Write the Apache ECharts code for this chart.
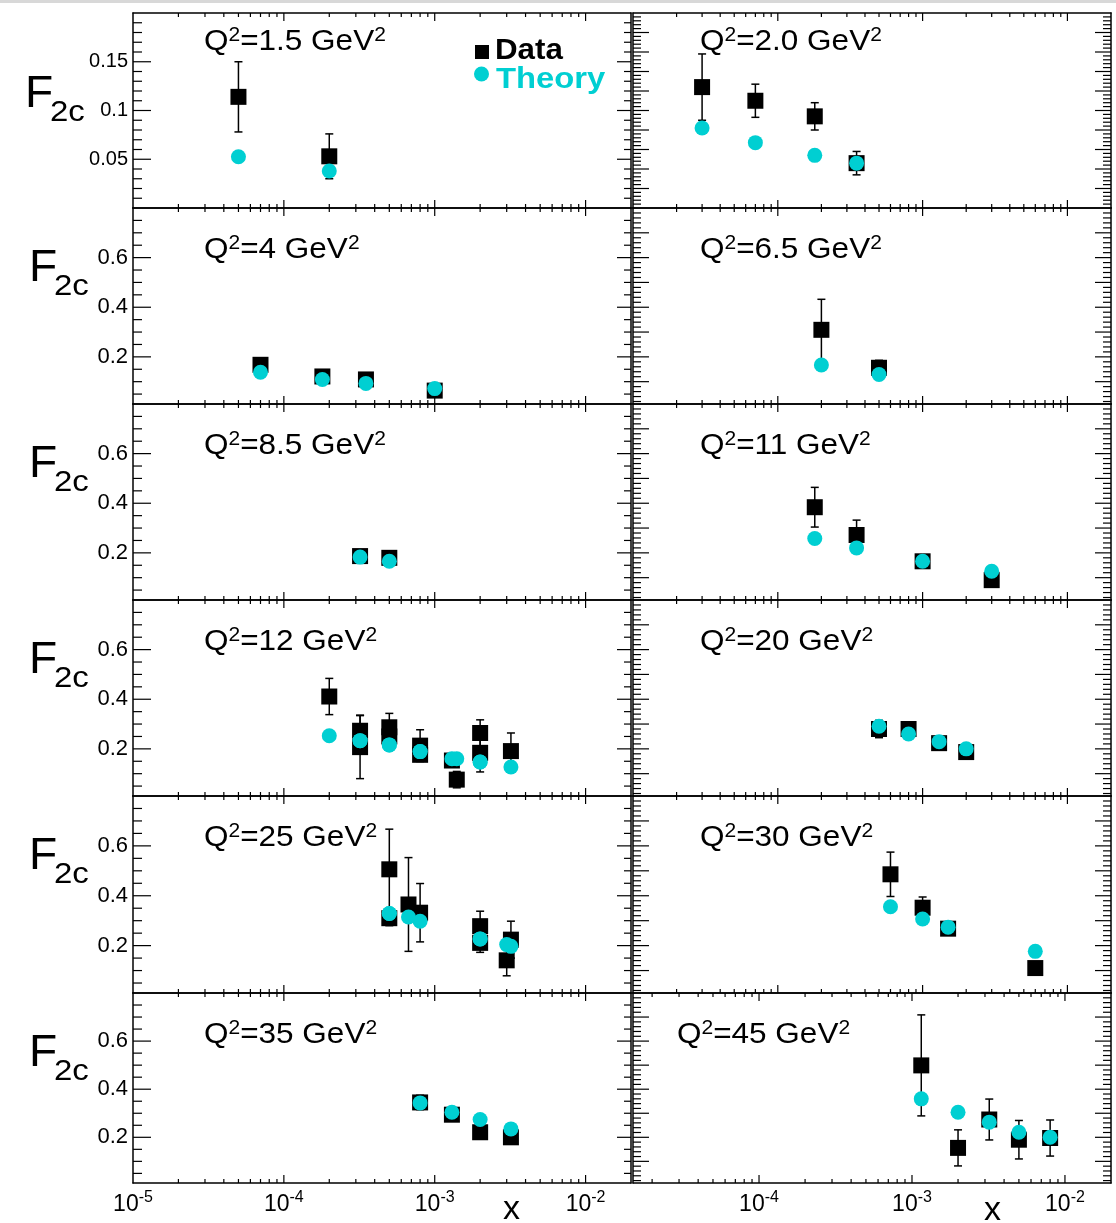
<!DOCTYPE html>
<html><head><meta charset="utf-8">
<script src="https://cdn.jsdelivr.net/npm/echarts@6/dist/echarts.min.js"></script>
<style>html,body{margin:0;padding:0;background:#fff}#c{width:1116px;height:1223px}</style>
</head><body><div id="c"></div>
<script>
// ---------------- data ----------------
const q2Labels = ['1.5','2.0','4','6.5','8.5','11','12','20','25','30','35','45'];

const x_q1p5 = [5e-5, 2e-4];
const data_q1p5 = [0.114, 0.053];
const err_q1p5 = [0.036, 0.023];
const theory_q1p5 = [0.0525, 0.038];

const x_q2p0 = [3e-5, 7e-5, 1.8e-4, 3.5e-4];
const data_q2p0 = [0.124, 0.110, 0.094, 0.046];
const err_q2p0 = [0.034, 0.017, 0.014, 0.012];
const theory_q2p0 = [0.082, 0.067, 0.054, 0.046];

const x_q4 = [7e-5, 1.8e-4, 3.5e-4, 1e-3];
const data_q4 = [0.168, 0.121, 0.109, 0.064];
const err_q4 = [0.01, 0.01, 0.01, 0.01];
const theory_q4 = [0.138, 0.109, 0.093, 0.072];

const x_q6p5 = [2e-4, 5e-4];
const data_q6p5 = [0.309, 0.156];
const err_q6p5 = [0.123, 0.03];
const theory_q6p5 = [0.167, 0.129];

const x_q8p5 = [3.2e-4, 5e-4];
const data_q8p5 = [0.187, 0.180];
const err_q8p5 = [0.01, 0.01];
const theory_q8p5 = [0.183, 0.166];

const x_q11 = [1.8e-4, 3.5e-4, 1e-3, 3e-3];
const data_q11 = [0.384, 0.272, 0.166, 0.090];
const err_q11 = [0.08, 0.06, 0.01, 0.01];
const theory_q11 = [0.258, 0.220, 0.166, 0.126];

const x_q12 = [2e-4, 3.2e-4, 3.2e-4, 5e-4, 5e-4, 8e-4, 8e-4, 1.3e-3, 1.4e-3, 2e-3, 2e-3, 3.2e-3];
const data_q12 = [0.411, 0.273, 0.207, 0.287, 0.250, 0.213, 0.176, 0.153, 0.076, 0.264, 0.184, 0.191];
const err_q12 = [0.073, 0.063, 0.127, 0.056, 0.03, 0.064, 0.02, 0.02, 0.033, 0.053, 0.077, 0.073];
const theory_q12 = [0.253, 0.233, 0.233, 0.216, 0.216, 0.189, 0.189, 0.160, 0.160, 0.147, 0.147, 0.127];

const x_q20 = [5e-4, 8e-4, 1.3e-3, 2e-3];
const data_q20 = [0.280, 0.280, 0.223, 0.187];
const err_q20 = [0.035, 0.01, 0.01, 0.01];
const theory_q20 = [0.291, 0.260, 0.229, 0.200];

const x_q25 = [5e-4, 5e-4, 6.7e-4, 8e-4, 2e-3, 2e-3, 3e-3, 3.2e-3];
const data_q25 = [0.506, 0.310, 0.365, 0.332, 0.278, 0.211, 0.141, 0.224];
const err_q25 = [0.161, 0.03, 0.188, 0.117, 0.06, 0.038, 0.062, 0.074];
const theory_q25 = [0.329, 0.329, 0.315, 0.298, 0.227, 0.227, 0.204, 0.197];

const x_q30 = [6e-4, 1e-3, 1.5e-3, 6e-3];
const data_q30 = [0.486, 0.352, 0.268, 0.110];
const err_q30 = [0.089, 0.043, 0.01, 0.01];
const theory_q30 = [0.356, 0.307, 0.274, 0.177];

const x_q35 = [8e-4, 1.3e-3, 2e-3, 3.2e-3];
const data_q35 = [0.345, 0.294, 0.221, 0.200];
const err_q35 = [0.03, 0.01, 0.01, 0.01];
const theory_q35 = [0.343, 0.304, 0.274, 0.235];

const x_q45 = [1.15e-3, 2e-3, 3.2e-3, 5e-3, 8e-3];
const data_q45 = [0.499, 0.156, 0.274, 0.190, 0.197];
const err_q45 = [0.21, 0.075, 0.085, 0.08, 0.075];
const theory_q45 = [0.360, 0.304, 0.263, 0.221, 0.200];

// axis ranges and tick labels
const xRangeStd = [1e-5, 0.02];
const xRangeLastRight = [1.5e-5, 0.02];
const yRangeTop = [0, 0.2];
const yRangeMain = [0.01, 0.8];
const xTickLabels = [1e-5, 1e-4, 1e-3, 1e-2];
const xTickDecades = [1e-5, 1e-4, 1e-3, 1e-2];
const xTickMultipliers = [1, 2, 3, 4, 5, 6, 7, 8, 9];
const yTickLabelsTop = [0.05, 0.1, 0.15];
const yTickLabelsMain = [0.2, 0.4, 0.6];

// ---------------- layout / style ----------------
const panels = [
  {q: q2Labels[0], x: x_q1p5, d: data_q1p5, e: err_q1p5, t: theory_q1p5},
  {q: q2Labels[1], x: x_q2p0, d: data_q2p0, e: err_q2p0, t: theory_q2p0},
  {q: q2Labels[2], x: x_q4, d: data_q4, e: err_q4, t: theory_q4},
  {q: q2Labels[3], x: x_q6p5, d: data_q6p5, e: err_q6p5, t: theory_q6p5},
  {q: q2Labels[4], x: x_q8p5, d: data_q8p5, e: err_q8p5, t: theory_q8p5},
  {q: q2Labels[5], x: x_q11, d: data_q11, e: err_q11, t: theory_q11},
  {q: q2Labels[6], x: x_q12, d: data_q12, e: err_q12, t: theory_q12},
  {q: q2Labels[7], x: x_q20, d: data_q20, e: err_q20, t: theory_q20},
  {q: q2Labels[8], x: x_q25, d: data_q25, e: err_q25, t: theory_q25},
  {q: q2Labels[9], x: x_q30, d: data_q30, e: err_q30, t: theory_q30},
  {q: q2Labels[10], x: x_q35, d: data_q35, e: err_q35, t: theory_q35},
  {q: q2Labels[11], x: x_q45, d: data_q45, e: err_q45, t: theory_q45}
];

const colLeft = [133, 633];
const colWidth = [498, 478];
const rowTop = [13, 208, 404, 600, 796, 993];
const rowH = [195, 196, 196, 196, 197, 190];
const CYAN = '#00cfd2';
const FONT = 'Liberation Sans, Helvetica, Arial, sans-serif';

function fmtNum(v){ return String(parseFloat(v.toFixed(4))); }
function yLabelFmt(list){
  return function(v){ return list.some(t => Math.abs(t - v) < 1e-9) ? fmtNum(v) : ''; };
}
function xLabelFmt(v){
  const e = Math.log10(v), er = Math.round(e);
  if (Math.abs(e - er) > 1e-6) return '';
  if (!xTickLabels.some(t => Math.abs(Math.log10(t) - er) < 1e-6)) return '';
  return '{b|10}{s|' + (er < 0 ? '-' : '') + Math.abs(er) + '}';
}

const grids = [], xAxes = [], yAxes = [], series = [];

panels.forEach((p, i) => {
  const r = Math.floor(i / 2), c = i % 2;
  const xr = (i === 11) ? xRangeLastRight : xRangeStd;
  const yr = (r === 0) ? yRangeTop : yRangeMain;
  const bottomRow = (r === 5);
  grids.push({left: colLeft[c], top: rowTop[r], width: colWidth[c], height: rowH[r], containLabel: false});
  const axLine = {show: true, onZero: false, lineStyle: {color: '#000', width: 1.5}};
  xAxes.push({type: 'log', logBase: 10, gridIndex: i, min: xr[0], max: xr[1], position: 'bottom',
    axisLine: axLine, axisTick: {show: false}, minorTick: {show: false}, splitLine: {show: false},
    axisLabel: {show: bottomRow, formatter: xLabelFmt, margin: 7, color: '#000', showMinLabel: true, showMaxLabel: false,
      rich: {b: {fontSize: 23, fontFamily: FONT, color: '#000', verticalAlign: 'bottom', lineHeight: 26},
             s: {fontSize: 16, fontFamily: FONT, color: '#000', verticalAlign: 'top', lineHeight: 26}}}});
  xAxes.push({type: 'log', logBase: 10, gridIndex: i, min: xr[0], max: xr[1], position: 'top',
    axisLine: axLine, axisTick: {show: false}, axisLabel: {show: false}, splitLine: {show: false}});
  yAxes.push({type: 'value', gridIndex: i, min: yr[0], max: yr[1], splitNumber: 4, position: 'left',
    axisLine: axLine, axisTick: {show: false}, splitLine: {show: false},
    axisLabel: {show: c === 0, formatter: yLabelFmt(r === 0 ? yTickLabelsTop : yTickLabelsMain),
      fontSize: r === 0 ? 20 : 22, fontFamily: FONT, color: '#000', margin: 5, showMinLabel: false, showMaxLabel: false}});
  yAxes.push({type: 'value', gridIndex: i, min: yr[0], max: yr[1], splitNumber: 4, position: 'right',
    axisLine: axLine, axisTick: {show: false}, splitLine: {show: false}, axisLabel: {show: false}});

  // tick marks (ROOT style, drawn inside the frame via the axes' scales)
  const yStep = (r === 0) ? (c === 0 ? 0.01 : 0.004) : (c === 0 ? 0.05 : 0.02);
  const yMajorEvery = (r === 0) ? 5 : (c === 0 ? 4 : 5);
  const lenL = c === 0 ? [18, 9] : [16, 8];
  const lenR = c === 0 ? [14, 7] : [16, 8];
  series.push({
    type: 'custom', xAxisIndex: 2 * i, yAxisIndex: 2 * i, silent: true, z: 1, clip: false,
    data: [[xr[0], yr[0]]],
    renderItem: function(params, api){
      const cs = params.coordSys;
      const L = cs.x, R = cs.x + cs.width, T = cs.y, B = cs.y + cs.height;
      const st = {stroke: '#000', lineWidth: 1.2};
      const ch = [];
      xTickDecades.forEach(dec => xTickMultipliers.forEach(m => {
        const v = dec * m;
        if (v < xr[0] * 1.0001 || v > xr[1] * 0.9999) return;
        const px = api.coord([v, yr[0]])[0];
        const len = (m === 1) ? 8 : 4;
        ch.push({type: 'line', shape: {x1: px, y1: B, x2: px, y2: B - len}, style: st});
        ch.push({type: 'line', shape: {x1: px, y1: T, x2: px, y2: T + len}, style: st});
      }));
      const k0 = Math.ceil(yr[0] / yStep - 1e-9), k1 = Math.floor(yr[1] / yStep + 1e-9);
      for (let k = k0; k <= k1; k++) {
        const v = k * yStep;
        if (v <= yr[0] + 1e-9 || v >= yr[1] - 1e-9) continue;
        const py = api.coord([xr[0], v])[1];
        const major = (k % yMajorEvery === 0);
        const a = major ? lenL[0] : lenL[1], b = major ? lenR[0] : lenR[1];
        ch.push({type: 'line', shape: {x1: L, y1: py, x2: L + a, y2: py}, style: st});
        ch.push({type: 'line', shape: {x1: R, y1: py, x2: R - b, y2: py}, style: st});
      }
      return {type: 'group', children: ch};
    }
  });

  // error bars
  series.push({
    type: 'custom', xAxisIndex: 2 * i, yAxisIndex: 2 * i, z: 2, clip: false,
    data: p.x.map((xv, j) => [xv, p.d[j] - p.e[j], p.d[j] + p.e[j]]),
    encode: {x: 0, y: [1, 2]},
    renderItem: function(params, api){
      const xv = api.value(0);
      const lo = api.coord([xv, api.value(1)]);
      const hi = api.coord([xv, api.value(2)]);
      const st = {stroke: '#000', lineWidth: 1.5};
      const w = 4;
      return {type: 'group', children: [
        {type: 'line', shape: {x1: lo[0], y1: lo[1], x2: hi[0], y2: hi[1]}, style: st},
        {type: 'line', shape: {x1: lo[0] - w, y1: lo[1], x2: lo[0] + w, y2: lo[1]}, style: st},
        {type: 'line', shape: {x1: hi[0] - w, y1: hi[1], x2: hi[0] + w, y2: hi[1]}, style: st}
      ]};
    }
  });
  series.push({type: 'scatter', xAxisIndex: 2 * i, yAxisIndex: 2 * i, z: 3, symbol: 'rect', symbolSize: 16,
    itemStyle: {color: '#000', opacity: 1}, data: p.x.map((xv, j) => [xv, p.d[j]])});
  series.push({type: 'scatter', xAxisIndex: 2 * i, yAxisIndex: 2 * i, z: 4, symbol: 'circle', symbolSize: 15,
    itemStyle: {color: CYAN, opacity: 1}, data: p.x.map((xv, j) => [xv, p.t[j]])});
});

// ---------------- text elements ----------------
const graphics = [];
graphics.push({type: 'rect', shape: {x: 0, y: 0, width: 1116, height: 3}, style: {fill: '#d8d8d8'}});
function richText(x, y, text, rich, sx){
  return {type: 'text', x: x, y: y, z: 100, scaleX: sx || 1,
    style: {text: text, rich: rich, fill: '#000', align: 'left', verticalAlign: 'bottom'}};
}
const titleRich = {
  n: {fontSize: 30, fontFamily: FONT, verticalAlign: 'bottom', lineHeight: 32},
  s: {fontSize: 20, fontFamily: FONT, verticalAlign: 'top', lineHeight: 32}
};
panels.forEach((p, i) => {
  const r = Math.floor(i / 2), c = i % 2;
  const base = (r === 0) ? 50 : rowTop[r] + 50;
  const x = (c === 0) ? 204 : (i === 11 ? 677 : 700);
  graphics.push(richText(x, base + 7, '{n|Q}{s|2}{n|=' + p.q + ' GeV}{s|2}', titleRich, 1.05));
  if (c === 0) {
    const fx = (r === 0) ? 25 : 29;
    const fb = (r === 0) ? 108 : rowTop[r] + 74;
    graphics.push({type: 'text', x: fx, y: fb + 9, z: 100, scaleX: 1.05, style: {text: 'F', font: '44px ' + FONT, fill: '#000', verticalAlign: 'bottom'}});
    graphics.push({type: 'text', x: fx + 25, y: fb + 14 + 6, z: 100, scaleX: 1.1, style: {text: '2c', font: '30px ' + FONT, fill: '#000', verticalAlign: 'bottom'}});
  }
});
// legend
graphics.push({type: 'rect', z: 100, shape: {x: 475, y: 45, width: 14, height: 14}, style: {fill: '#000'}});
graphics.push({type: 'text', x: 495, y: 59 + 6, z: 100, scaleX: 1.08, style: {text: 'Data', font: 'bold 29px ' + FONT, fill: '#000', verticalAlign: 'bottom'}});
graphics.push({type: 'circle', z: 100, shape: {cx: 481.5, cy: 74, r: 7.5}, style: {fill: CYAN}});
graphics.push({type: 'text', x: 496, y: 88 + 6, z: 100, scaleX: 1.13, style: {text: 'Theory', font: 'bold 29px ' + FONT, fill: CYAN, verticalAlign: 'bottom'}});
// x-axis titles
graphics.push({type: 'text', x: 503, y: 1220 + 7, z: 100, style: {text: 'x', font: '34px ' + FONT, fill: '#000', verticalAlign: 'bottom'}});
graphics.push({type: 'text', x: 984, y: 1221 + 7, z: 100, style: {text: 'x', font: '34px ' + FONT, fill: '#000', verticalAlign: 'bottom'}});

const chart = echarts.init(document.getElementById('c'), null, {renderer: 'canvas'});
chart.setOption({
  animation: false,
  backgroundColor: '#fff',
  grid: grids, xAxis: xAxes, yAxis: yAxes, series: series, graphic: graphics
});
</script></body></html>
